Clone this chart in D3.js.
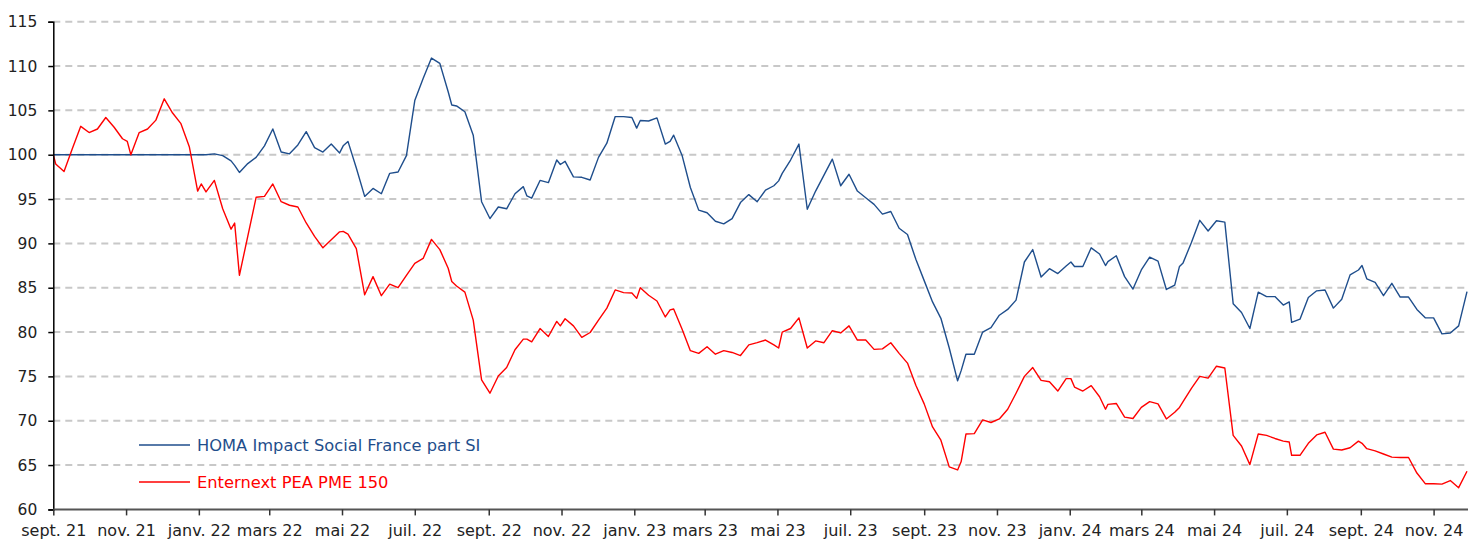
<!DOCTYPE html>
<html>
<head>
<meta charset="utf-8">
<script src="https://cdn.jsdelivr.net/npm/d3@7"></script>
<style>
  html, body { margin: 0; padding: 0; background: #fff; }
  svg { display: block; font-family: "DejaVu Sans", Verdana, sans-serif; }
</style>
</head>
<body>
<svg id="chart" width="1468" height="540"></svg>
<script>
// dates of the points (weekly, plus a few month-turn values)
var dates = [
  "2021-09-01","2021-09-03","2021-09-10","2021-09-17","2021-09-24","2021-10-01","2021-10-08","2021-10-15","2021-10-22","2021-10-29",
  "2021-11-02","2021-11-05","2021-11-12","2021-11-19","2021-11-26","2021-12-03","2021-12-10","2021-12-17","2021-12-24","2021-12-31",
  "2022-01-03","2022-01-07","2022-01-14","2022-01-21","2022-01-28","2022-01-31","2022-02-04","2022-02-11","2022-02-18","2022-02-25",
  "2022-03-04","2022-03-11","2022-03-18","2022-03-25","2022-04-01","2022-04-08","2022-04-15","2022-04-22","2022-04-29","2022-05-02",
  "2022-05-06","2022-05-13","2022-05-20","2022-05-27","2022-06-03","2022-06-10","2022-06-17","2022-06-24","2022-07-01","2022-07-08",
  "2022-07-15","2022-07-22","2022-07-29","2022-08-01","2022-08-05","2022-08-12","2022-08-19","2022-08-26","2022-09-02","2022-09-09",
  "2022-09-16","2022-09-23","2022-09-30","2022-10-03","2022-10-07","2022-10-14","2022-10-21","2022-10-28","2022-10-31","2022-11-04",
  "2022-11-11","2022-11-18","2022-11-25","2022-12-02","2022-12-09","2022-12-16","2022-12-23","2022-12-30","2023-01-03","2023-01-06",
  "2023-01-13","2023-01-20","2023-01-27","2023-01-31","2023-02-03","2023-02-10","2023-02-17","2023-02-24","2023-03-03","2023-03-10",
  "2023-03-17","2023-03-24","2023-03-31","2023-04-07","2023-04-14","2023-04-21","2023-04-28","2023-05-02","2023-05-05","2023-05-12",
  "2023-05-19","2023-05-26","2023-06-02","2023-06-09","2023-06-16","2023-06-23","2023-06-30","2023-07-07","2023-07-14","2023-07-21",
  "2023-07-28","2023-08-04","2023-08-11","2023-08-18","2023-08-25","2023-09-01","2023-09-08","2023-09-15","2023-09-22","2023-09-29",
  "2023-10-02","2023-10-06","2023-10-13","2023-10-20","2023-10-27","2023-11-03","2023-11-10","2023-11-17","2023-11-24","2023-12-01",
  "2023-12-08","2023-12-15","2023-12-22","2023-12-29","2024-01-02","2024-01-05","2024-01-12","2024-01-19","2024-01-26","2024-01-31",
  "2024-02-02","2024-02-09","2024-02-16","2024-02-23","2024-03-01","2024-03-08","2024-03-15","2024-03-22","2024-03-29","2024-04-02",
  "2024-04-05","2024-04-12","2024-04-19","2024-04-26","2024-05-03","2024-05-10","2024-05-17","2024-05-24","2024-05-31","2024-06-07",
  "2024-06-14","2024-06-21","2024-06-28","2024-07-03","2024-07-05","2024-07-12","2024-07-19","2024-07-26","2024-08-02","2024-08-09",
  "2024-08-16","2024-08-23","2024-08-30","2024-09-02","2024-09-06","2024-09-13","2024-09-20","2024-09-27","2024-10-04","2024-10-11",
  "2024-10-18","2024-10-25","2024-11-01","2024-11-08","2024-11-15","2024-11-22","2024-11-29"
];

// HOMA Impact Social France part SI
var homaValues = [
  100,100,100,100,100,100,100,100,100,100,
  100,100,100,100,100,100,100,100,100,100,
  100,100,100.1,99.9,99.3,98.8,98.0,99.0,99.7,101.0,
  102.9,100.3,100.1,101.1,102.6,100.8,100.3,101.2,100.2,101.0,
  101.5,98.5,95.3,96.2,95.6,97.9,98.05,99.9,106.1,108.6,
  110.9,110.3,107.1,105.6,105.5,104.85,102.2,94.7,92.8,94.1,
  93.9,95.6,96.4,95.35,95.1,97.1,96.85,99.4,98.9,99.25,
  97.5,97.45,97.15,99.7,101.3,104.3,104.3,104.2,103.0,103.85,
  103.8,104.15,101.2,101.5,102.2,99.95,96.3,93.75,93.45,92.5,
  92.2,92.8,94.6,95.5,94.7,96.0,96.5,97.05,97.9,99.4,
  101.2,93.85,95.9,97.7,99.5,96.5,97.8,95.9,95.15,94.4,
  93.3,93.6,91.7,91.0,88.2,85.8,83.4,81.55,78.2,74.5,
  75.65,77.5,77.5,80.0,80.5,81.9,82.55,83.6,87.9,89.3,
  86.2,87.15,86.6,87.45,87.9,87.4,87.4,89.5,88.8,87.5,
  87.95,88.6,86.25,84.85,87.0,88.45,88.0,84.8,85.3,87.4,
  87.8,90.1,92.6,91.4,92.55,92.4,83.2,82.2,80.4,84.5,
  84.0,84.0,83.05,83.4,81.1,81.45,83.9,84.65,84.75,82.7,
  83.7,86.45,87.0,87.5,86.0,85.6,84.1,85.5,83.95,83.95,
  82.55,81.6,81.6,79.8,79.9,80.7,84.55
];

// Enternext PEA PME 150
var pmeValues = [
  100,98.95,98.1,100.7,103.2,102.5,102.9,104.2,103.1,101.8,
  101.5,100.0,102.5,102.9,103.9,106.3,104.7,103.5,100.9,95.9,
  96.7,95.8,97.1,93.9,91.6,92.3,86.4,90.8,95.2,95.3,
  96.7,94.7,94.3,94.1,92.3,90.8,89.5,90.4,91.3,91.35,
  91.05,89.4,84.2,86.25,84.1,85.4,85.0,86.4,87.75,88.3,
  90.45,89.3,87.2,85.7,85.2,84.5,81.35,74.6,73.1,75.05,
  76.0,78.0,79.2,79.2,78.9,80.4,79.5,81.2,80.7,81.5,
  80.7,79.4,79.95,81.35,82.7,84.75,84.45,84.4,83.8,85.0,
  84.15,83.5,81.7,82.5,82.6,80.35,77.9,77.6,78.35,77.5,
  77.9,77.7,77.35,78.55,78.8,79.1,78.55,78.2,80.0,80.4,
  81.6,78.2,79.0,78.8,80.15,79.9,80.7,79.1,79.1,78.05,
  78.1,78.8,77.6,76.5,74.0,71.9,69.3,67.8,64.8,64.45,
  65.4,68.5,68.55,70.1,69.8,70.2,71.3,73.1,75.0,76.0,
  74.55,74.4,73.35,74.75,74.75,73.8,73.35,73.95,72.7,71.3,
  71.85,71.95,70.4,70.25,71.5,72.15,71.9,70.2,70.95,71.5,
  72.15,73.65,75.0,74.8,76.15,75.95,68.35,67.15,65.05,68.5,
  68.35,68.0,67.7,67.6,66.1,66.1,67.45,68.4,68.7,66.8,
  66.7,66.95,67.7,67.45,66.85,66.6,66.25,65.9,65.85,65.85,
  64.1,62.9,62.9,62.85,63.25,62.45,64.3
];

var seriesNames = ["HOMA Impact Social France part SI", "Enternext PEA PME 150"];
var seriesColors = ["#1f4e8c", "#ff0000"];
var yTicks = [60, 65, 70, 75, 80, 85, 90, 95, 100, 105, 110, 115];
var monthsFr = ["janv.", "févr.", "mars", "avr.", "mai", "juin", "juil.", "août", "sept.", "oct.", "nov.", "déc."];

var parse = d3.timeParse("%Y-%m-%d");
// plot box (window.top is read-only, so keep own names)
var plotLeft = 53.3, plotRight = 1467, plotTop = 21.7, plotBottom = 509.4;

var svg = d3.select("#chart");

var x = d3.scaleTime()
  .domain([parse("2021-09-01"), parse("2024-11-29")])
  .range([plotLeft, plotRight]);
var y = d3.scaleLinear()
  .domain([60, 115])
  .range([plotBottom, plotTop]);

// gridlines, dashed grey
svg.append("g")
  .selectAll("line")
  .data(yTicks.filter(function (d) { return d > 60; }))
  .enter().append("line")
  .attr("x1", plotLeft).attr("x2", 1468)
  .attr("y1", function (d) { return y(d); })
  .attr("y2", function (d) { return y(d); })
  .attr("stroke", "#c8c8c8")
  .attr("stroke-width", 2)
  .attr("stroke-dasharray", "7,5");

// lines
var line = d3.line()
  .x(function (d) { return x(d.date); })
  .y(function (d) { return y(d.v); });

[homaValues, pmeValues].forEach(function (vals, i) {
  var pts = dates.map(function (d, j) { return { date: parse(d), v: vals[j] }; });
  svg.append("path")
    .datum(pts)
    .attr("fill", "none")
    .attr("stroke", seriesColors[i])
    .attr("stroke-width", 1.4)
    .attr("stroke-linejoin", "round")
    .attr("d", line);
});

// y axis
var yAxis = svg.append("g")
  .attr("transform", "translate(" + plotLeft + ",0)")
  .call(d3.axisLeft(y).tickValues(yTicks).tickSize(5).tickPadding(11));
yAxis.select(".domain").attr("stroke", "#000").attr("stroke-width", 1.5);
yAxis.selectAll(".tick line").attr("stroke", "#000").attr("stroke-width", 1.5);
yAxis.selectAll("text").attr("font-size", "15.5px").attr("fill", "#222")
  .attr("font-family", "DejaVu Sans, Verdana, sans-serif");

// x axis, every 2 months
var xAxis = svg.append("g")
  .attr("transform", "translate(0," + plotBottom + ")")
  .call(d3.axisBottom(x)
    .ticks(d3.timeMonth.every(2))
    .tickSize(6)
    .tickPadding(9)
    .tickFormat(function (d) { return monthsFr[d.getMonth()] + " " + d3.timeFormat("%y")(d); }));
xAxis.select(".domain").attr("stroke", "#555").attr("stroke-width", 2)
  .attr("d", "M" + plotLeft + ",0H1468");
xAxis.selectAll(".tick line").attr("stroke", "#333").attr("stroke-width", 1.5);
xAxis.selectAll("text").attr("font-size", "16px").attr("fill", "#222")
  .attr("font-family", "DejaVu Sans, Verdana, sans-serif");

// legend
var legend = svg.append("g");
seriesNames.forEach(function (name, i) {
  var ly = 445 + i * 37;
  legend.append("line")
    .attr("x1", 139).attr("x2", 190)
    .attr("y1", ly).attr("y2", ly)
    .attr("stroke", seriesColors[i]).attr("stroke-width", 1.4);
  legend.append("text")
    .attr("x", 197).attr("y", ly)
    .attr("dy", "0.35em")
    .attr("font-size", "16.3px")
    .attr("fill", seriesColors[i])
    .text(name);
});
</script>
</body>
</html>
